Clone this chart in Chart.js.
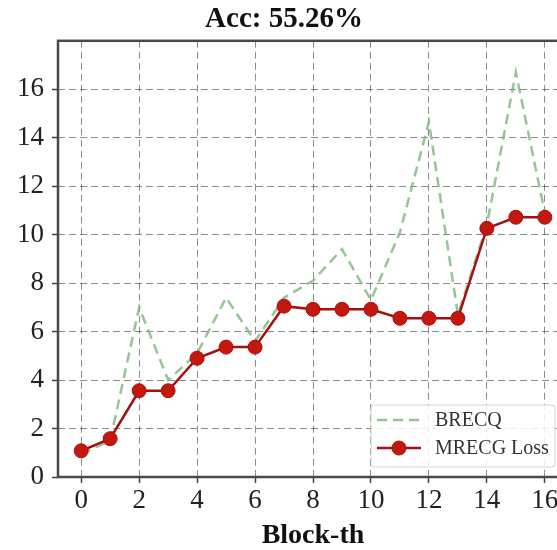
<!DOCTYPE html>
<html>
<head>
<meta charset="utf-8">
<script src="https://cdn.jsdelivr.net/npm/chart.js@4"></script>
<style>
  html, body { margin: 0; padding: 0; background: #fff; overflow: hidden; }
  #wrap { width: 557px; height: 550px; overflow: hidden; }
</style>
</head>
<body>
<div id="wrap"><canvas id="chart" width="626" height="550"></canvas></div>
<script>
// ── Data ──
const blocks = [0, 1, 2, 3, 4, 5, 6, 7, 8, 9, 10, 11, 12, 13, 14, 15, 16];
const brecq  = [0.95, 1.5, 7.0, 4.0, 5.1, 7.4, 5.6, 7.4, 8.1, 9.4, 7.3, 10.1, 14.65, 6.7, 10.4, 16.7, 10.9];
const mrecg  = [1.08, 1.58, 3.56, 3.56, 4.9, 5.36, 5.36, 7.05, 6.92, 6.92, 6.92, 6.55, 6.55, 6.55, 10.26, 10.72, 10.72];
const xTicks = [0, 2, 4, 6, 8, 10, 12, 14, 16];
const yTicks = [0, 2, 4, 6, 8, 10, 12, 14, 16];

const SERIF = '"Liberation Serif", "Times New Roman", serif';
const toXY = ys => blocks.map((b, i) => ({ x: b, y: ys[i] }));

// ── Frame around the plot ──
const framePlugin = {
  id: 'frame',
  afterDatasetsDraw(chart) {
    const { ctx, chartArea: a } = chart;
    ctx.save();
    ctx.strokeStyle = '#4a4a4a';
    ctx.lineWidth = 2.5;
    ctx.strokeRect(a.left, a.top, a.right - a.left, a.bottom - a.top);
    ctx.restore();
  }
};

// ── Legend inside the plot, bottom right ──
const innerLegend = {
  id: 'innerLegend',
  afterDraw(chart) {
    const { ctx, chartArea: a } = chart;
    const w = 184, h = 62;
    const x0 = a.right - 13 - w, y0 = a.bottom - 10 - h;
    ctx.save();
    ctx.fillStyle = 'rgba(255,255,255,0.85)';
    ctx.strokeStyle = '#d4d4d4';
    ctx.lineWidth = 1;
    ctx.beginPath();
    ctx.roundRect(x0, y0, w, h, 3);
    ctx.fill();
    ctx.stroke();

    const rows = [chart.data.datasets[1], chart.data.datasets[0]];
    rows.forEach((ds, i) => {
      const cy = y0 + 15 + i * 28;
      ctx.strokeStyle = ds.borderColor;
      ctx.lineWidth = ds.borderWidth;
      ctx.setLineDash(ds.borderDash || []);
      ctx.beginPath();
      ctx.moveTo(x0 + 6, cy);
      ctx.lineTo(x0 + 50, cy);
      ctx.stroke();
      ctx.setLineDash([]);
      if (ds.pointRadius) {
        ctx.fillStyle = ds.pointBackgroundColor;
        ctx.strokeStyle = ds.pointBorderColor;
        ctx.lineWidth = ds.pointBorderWidth;
        ctx.beginPath();
        ctx.arc(x0 + 28, cy, ds.pointRadius, 0, Math.PI * 2);
        ctx.fill();
        ctx.stroke();
      }
      ctx.fillStyle = '#333';
      ctx.font = '20px ' + SERIF;
      ctx.textBaseline = 'middle';
      ctx.textAlign = 'left';
      ctx.fillText(ds.label, x0 + 64, cy + 1);
    });
    ctx.restore();
  }
};

new Chart(document.getElementById('chart'), {
  type: 'line',
  data: {
    datasets: [
      {
        label: 'MRECG Loss',
        data: toXY(mrecg),
        borderColor: '#a50f0f',
        borderWidth: 2.5,
        pointRadius: 7,
        pointHoverRadius: 7,
        pointBackgroundColor: '#c4170d',
        pointBorderColor: '#a50f0f',
        pointBorderWidth: 1,
        tension: 0,
        order: 0,
      },
      {
        label: 'BRECQ',
        data: toXY(brecq),
        borderColor: 'rgba(125,180,125,0.8)',
        borderWidth: 2.5,
        borderDash: [10, 6],
        pointRadius: 0,
        tension: 0,
        order: 1,
      },
    ],
  },
  options: {
    responsive: false,
    animation: false,
    devicePixelRatio: 1,
    layout: { padding: { left: 0, right: 58, top: 0, bottom: 0 } },
    plugins: {
      legend: { display: false },
      tooltip: { enabled: false },
      title: {
        display: true,
        text: 'Acc: 55.26%',
        color: '#111',
        font: { family: SERIF, size: 29, weight: 'bold', lineHeight: 1.2 },
        padding: { top: 2, bottom: 4 },
      },
    },
    scales: {
      x: {
        type: 'linear',
        min: -0.8,
        max: 16.8,
        afterBuildTicks: s => { s.ticks = xTicks.map(v => ({ value: v })); },
        afterFit: s => { s.height = 73; },
        ticks: { color: '#222', font: { family: SERIF, size: 27 }, padding: 2, maxRotation: 0 },
        grid: { color: 'rgba(0,0,0,0.45)', lineWidth: 1, tickLength: 6, tickColor: '#444', tickWidth: 1.5, tickBorderDash: [] },
        border: { display: false, dash: [7, 4] },
        title: {
          display: true,
          text: 'Block-th',
          color: '#111',
          font: { family: SERIF, size: 28, weight: 'bold', lineHeight: 1 },
          padding: { top: 0, bottom: 0 },
        },
      },
      y: {
        min: 0,
        max: 18,
        afterBuildTicks: s => { s.ticks = yTicks.map(v => ({ value: v })); },
        afterFit: s => { s.width = 58; },
        ticks: { color: '#222', font: { family: SERIF, size: 27 }, padding: 8 },
        grid: { color: 'rgba(0,0,0,0.45)', lineWidth: 1, tickLength: 6, tickColor: '#444', tickWidth: 1.5, tickBorderDash: [] },
        border: { display: false, dash: [7, 4] },
      },
    },
  },
  plugins: [framePlugin, innerLegend],
});
</script>
</body>
</html>
